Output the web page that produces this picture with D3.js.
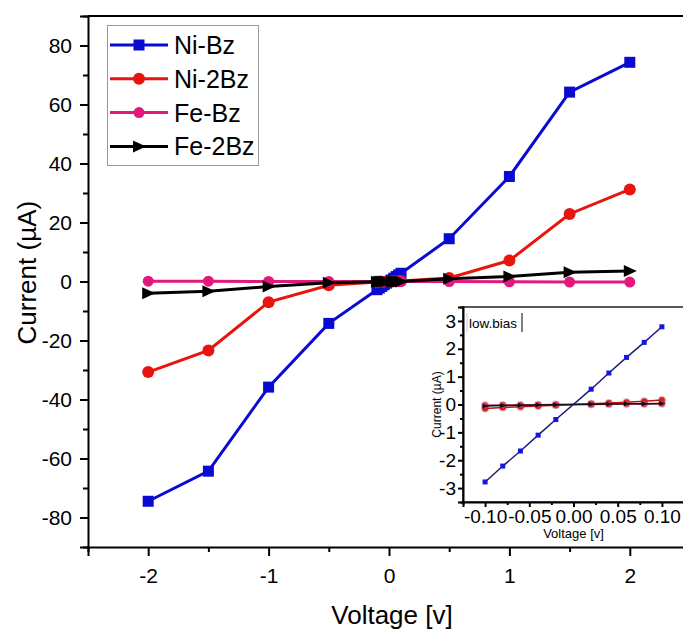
<!DOCTYPE html>
<html>
<head>
<meta charset="utf-8">
<script src="https://cdn.jsdelivr.net/npm/d3@7"></script>
<style>
  body { margin: 0; background: #fff; }
  svg { display: block; font-family: "Liberation Sans", Arial, sans-serif; }
  .axis path, .axis line { stroke: #000; stroke-width: 2px; }
  .axis text { fill: #000; }
</style>
</head>
<body>
<svg id="chart" width="683" height="629"></svg>
<script>
// high bias sweep
let voltsHigh = [-2, -1.5, -1, -0.5, 0.5, 1, 1.5, 2];
let niBzHigh = [-74.5, -64.3, -35.8, -14.2, 14.5, 35.6, 64.2, 74.3];
let ni2BzHigh = [-30.7, -23.4, -7.0, -1.3, 1.2, 7.1, 22.9, 31.2];
let feBzHigh = [0.1, 0.1, 0.0, 0.0, 0.0, -0.1, -0.2, -0.2];
let fe2BzHigh = [-4.0, -3.3, -1.7, -0.4, 0.9, 1.7, 3.1, 3.6];

// low bias sweep (inset)
let voltsLow = [-0.1, -0.08, -0.06, -0.04, -0.02, 0.02, 0.04, 0.06, 0.08, 0.1];
let niBzLow = [-2.78, -2.21, -1.67, -1.10, -0.54, 0.55, 1.13, 1.69, 2.23, 2.79];
let ni2BzLow = [-0.14, -0.11, -0.08, -0.05, -0.03, 0.03, 0.05, 0.08, 0.12, 0.16];
let feBzLow = [-0.03, -0.02, -0.02, -0.01, 0.0, 0.0, 0.01, 0.02, 0.02, 0.03];
let fe2BzLow = [-0.05, -0.04, -0.03, -0.02, -0.01, 0.01, 0.02, 0.03, 0.03, 0.04];

let seriesNames = ["Ni-Bz", "Ni-2Bz", "Fe-Bz", "Fe-2Bz"];
let seriesColors = ["#0a0ad2", "#e8150f", "#e2197c", "#000000"];

let xTicks = [-2, -1, 0, 1, 2];
let xMinor = [-2.5, -1.5, -0.5, 0.5, 1.5, 2.5];
let yTicks = [-80, -60, -40, -20, 0, 20, 40, 60, 80];
let yMinor = [-90, -70, -50, -30, -10, 10, 30, 50, 70, 90];
let insetXTicks = [-0.1, -0.05, 0, 0.05, 0.1];
let insetXMinor = [-0.125, -0.075, -0.025, 0.025, 0.075, 0.125];
let insetYTicks = [-3, -2, -1, 0, 1, 2, 3];
let insetYMinor = [-3.5, -2.5, -1.5, -0.5, 0.5, 1.5, 2.5, 3.5];

let svg = d3.select("#chart");

// plain hyphen minus, like the original software
let fmtInt = d => d3.format("d")(d).replace("\u2212", "-");
let fmt2 = d => d3.format(".2f")(d).replace("\u2212", "-");

function merge(hi, lo) {
    let pts = voltsHigh.map((v, i) => ({x: v, y: hi[i]}))
        .concat(voltsLow.map((v, i) => ({x: v, y: lo[i]})));
    return pts.sort((a, b) => a.x - b.x);
}

let mainSeries = [
    merge(niBzHigh, niBzLow),
    merge(ni2BzHigh, ni2BzLow),
    merge(feBzHigh, feBzLow),
    merge(fe2BzHigh, fe2BzLow)
];
let insetSeries = [niBzLow, ni2BzLow, feBzLow, fe2BzLow]
    .map(arr => voltsLow.map((v, i) => ({x: v, y: arr[i]})));

let xScale = d3.scaleLinear().domain([-2.5, 2.5]).range([88, 690]);
let yScale = d3.scaleLinear().domain([-90, 90]).range([547, 16]);

function drawMarker(g, k, size) {
    if (k === 0) {
        g.append("rect").attr("x", -size / 2).attr("y", -size / 2)
            .attr("width", size).attr("height", size);
    } else if (k === 3) {
        let s = size / 2;
        g.append("path").attr("d", `M${-s},${-s}L${s + 1},0L${-s},${s}Z`);
    } else {
        g.append("circle").attr("r", size / 2);
    }
}

// frame top line (plot runs off the right edge)
svg.append("line")
    .attr("x1", xScale(-2.5)).attr("x2", xScale(2.5))
    .attr("y1", yScale(90)).attr("y2", yScale(90))
    .attr("stroke", "#000").attr("stroke-width", 2);
svg.append("line")
    .attr("x1", xScale(2.5)).attr("x2", xScale(2.5))
    .attr("y1", yScale(90)).attr("y2", yScale(-90))
    .attr("stroke", "#000").attr("stroke-width", 2);

// main series
let line = d3.line().x(d => xScale(d.x)).y(d => yScale(d.y));
let markerSizes = [11, 12, 11, 12];
mainSeries.forEach((pts, k) => {
    let g = svg.append("g").attr("fill", seriesColors[k]);
    g.append("path").datum(pts)
        .attr("d", line)
        .attr("fill", "none")
        .attr("stroke", seriesColors[k])
        .attr("stroke-width", 3);
    pts.forEach(p => {
        let m = g.append("g").attr("transform", `translate(${xScale(p.x)},${yScale(p.y)})`);
        drawMarker(m, k, markerSizes[k]);
    });
});

// main axes
let xAxis = svg.append("g").attr("class", "axis")
    .attr("transform", `translate(0,${yScale(-90)})`)
    .call(d3.axisBottom(xScale).tickValues(xTicks).tickSize(9).tickPadding(12)
        .tickFormat(fmtInt));
xAxis.selectAll("text").attr("font-size", 21);
svg.append("g").attr("class", "axis")
    .attr("transform", `translate(0,${yScale(-90)})`)
    .call(d3.axisBottom(xScale).tickValues(xMinor).tickSize(5).tickFormat(""))
    .select(".domain").remove();

let yAxis = svg.append("g").attr("class", "axis")
    .attr("transform", `translate(${xScale(-2.5)},0)`)
    .call(d3.axisLeft(yScale).tickValues(yTicks).tickSize(8).tickPadding(8)
        .tickFormat(fmtInt));
yAxis.selectAll("text").attr("font-size", 21);
svg.append("g").attr("class", "axis")
    .attr("transform", `translate(${xScale(-2.5)},0)`)
    .call(d3.axisLeft(yScale).tickValues(yMinor).tickSize(5).tickFormat(""))
    .select(".domain").remove();

svg.append("text")
    .attr("x", 392)
    .attr("y", 624)
    .attr("text-anchor", "middle")
    .attr("font-size", 26)
    .text("Voltage [v]");
svg.append("text")
    .attr("transform", `translate(36,${yScale(3)}) rotate(-90)`)
    .attr("text-anchor", "middle")
    .attr("font-size", 26)
    .text("Current (µA)");

// legend
let legend = svg.append("g");
legend.append("rect")
    .attr("x", 107.5).attr("y", 25.5).attr("width", 151).attr("height", 140)
    .attr("fill", "#fff").attr("stroke", "#999").attr("stroke-width", 1);
seriesNames.forEach((name, k) => {
    let cy = 45 + k * 33.8;
    legend.append("line")
        .attr("x1", 110).attr("x2", 168).attr("y1", cy).attr("y2", cy)
        .attr("stroke", seriesColors[k]).attr("stroke-width", 3);
    let m = legend.append("g").attr("fill", seriesColors[k])
        .attr("transform", `translate(139,${cy})`);
    drawMarker(m, k, markerSizes[k]);
    legend.append("text")
        .attr("x", 174).attr("y", cy + 9)
        .attr("font-size", 25)
        .text(name);
});

// inset
let ix = d3.scaleLinear().domain([-0.125, 0.125]).range([463, 684]);
let iy = d3.scaleLinear().domain([-3.5, 3.5]).range([502, 307]);
let inset = svg.append("g");
inset.append("rect")
    .attr("x", ix(-0.125)).attr("y", iy(3.5))
    .attr("width", ix(0.125) - ix(-0.125)).attr("height", iy(-3.5) - iy(3.5))
    .attr("fill", "#fff").attr("stroke", "#222").attr("stroke-width", 1.5);

let iline = d3.line().x(d => ix(d.x)).y(d => iy(d.y));
let insetLineColors = ["#1c1c80", "#b01818", "#c02060", "#111"];
let insetMarkColors = ["#1515e0", "#d42020", "#d8408a", "#111"];
[1, 2, 3, 0].forEach(k => {
    let pts = insetSeries[k];
    let g = inset.append("g");
    g.append("path").datum(pts)
        .attr("d", iline)
        .attr("fill", "none")
        .attr("stroke", insetLineColors[k])
        .attr("stroke-width", 1.5);
    pts.forEach(p => {
        let m = g.append("g")
            .attr("transform", `translate(${ix(p.x)},${iy(p.y)})`)
            .attr("fill", insetMarkColors[k]);
        if (k === 0) {
            drawMarker(m, 0, 5);
        } else if (k === 3) {
            drawMarker(m, 3, 5);
        } else {
            m.append("circle").attr("r", 3)
                .attr("stroke", "rgba(200,40,40,0.35)").attr("stroke-width", 2);
        }
    });
});

let ixAxis = inset.append("g").attr("class", "axis")
    .attr("transform", `translate(0,${iy(-3.5)})`)
    .call(d3.axisBottom(ix).tickValues(insetXTicks).tickSize(5).tickPadding(3)
        .tickFormat(fmt2));
ixAxis.selectAll("line").attr("stroke-width", 1.2);
ixAxis.select(".domain").attr("stroke-width", 1.5);
ixAxis.selectAll("text").attr("font-size", 19);
inset.append("g").attr("class", "axis")
    .attr("transform", `translate(0,${iy(-3.5)})`)
    .call(d3.axisBottom(ix).tickValues(insetXMinor).tickSize(3).tickFormat(""))
    .call(a => a.selectAll("line").attr("stroke-width", 1.2))
    .select(".domain").remove();

let iyAxis = inset.append("g").attr("class", "axis")
    .attr("transform", `translate(${ix(-0.125)},0)`)
    .call(d3.axisLeft(iy).tickValues(insetYTicks).tickSize(5).tickPadding(2)
        .tickFormat(fmtInt));
iyAxis.selectAll("line").attr("stroke-width", 1.2);
iyAxis.select(".domain").attr("stroke-width", 1.5);
iyAxis.selectAll("text").attr("font-size", 19);
inset.append("g").attr("class", "axis")
    .attr("transform", `translate(${ix(-0.125)},0)`)
    .call(d3.axisLeft(iy).tickValues(insetYMinor).tickSize(3).tickFormat(""))
    .call(a => a.selectAll("line").attr("stroke-width", 1.2))
    .select(".domain").remove();

inset.append("text")
    .attr("x", ix(0)).attr("y", 538)
    .attr("text-anchor", "middle")
    .attr("font-size", 13)
    .text("Voltage [v]");
inset.append("text")
    .attr("transform", `translate(441,${iy(0)}) rotate(-90)`)
    .attr("text-anchor", "middle")
    .attr("font-size", 12)
    .text("Current (µA)");

// low.bias label box
inset.append("line")
    .attr("x1", 467).attr("x2", 467).attr("y1", 313).attr("y2", 332)
    .attr("stroke", "#ccc").attr("stroke-width", 1);
inset.append("text")
    .attr("x", 469).attr("y", 328)
    .attr("font-size", 13.5)
    .text("low.bias");
inset.append("line")
    .attr("x1", 522).attr("x2", 522).attr("y1", 313).attr("y2", 332)
    .attr("stroke", "#000").attr("stroke-width", 1);
</script>
</body>
</html>
